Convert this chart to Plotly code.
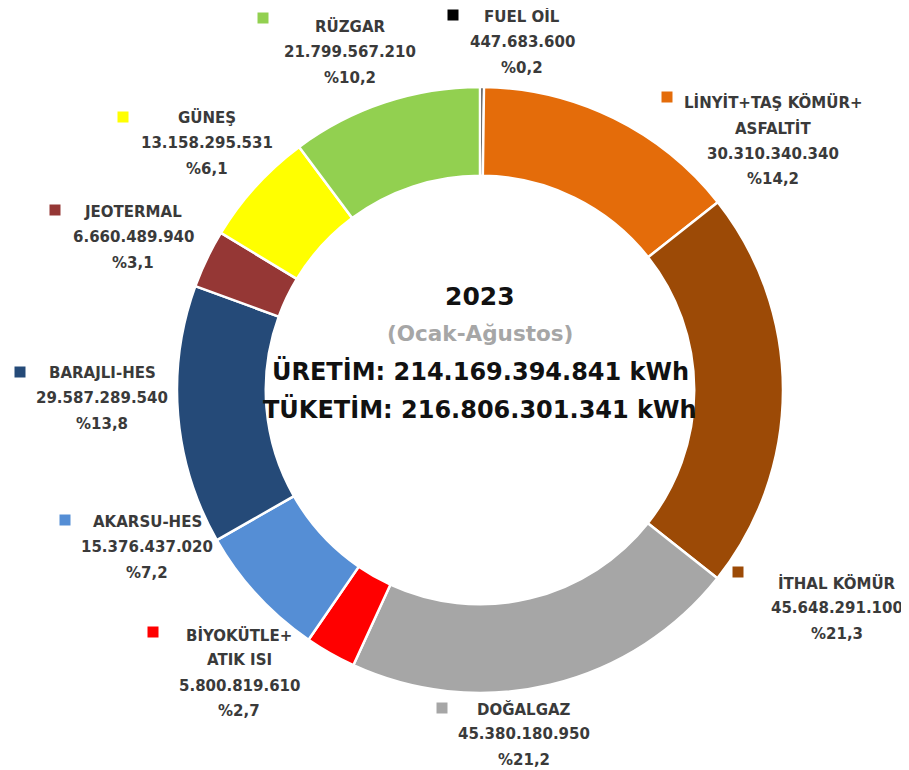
import plotly.graph_objects as go

# ---------------- data ----------------
categories = ["FUEL OİL", "LİNYİT+TAŞ KÖMÜR+<br>ASFALTİT", "İTHAL KÖMÜR", "DOĞALGAZ",
              "BİYOKÜTLE+<br>ATIK ISI", "AKARSU-HES", "BARAJLI-HES", "JEOTERMAL",
              "GÜNEŞ", "RÜZGAR"]
values_kwh = [447683600, 30310340340, 45648291100, 45380180950, 5800819610,
              15376437020, 29587289540, 6660489940, 13158295531, 21799567210]
consumption_kwh = 216806301341
year_label = "2023"
period_label = "(Ocak-Ağustos)"

# ---------------- styles / layout ----------------
colors = ["#000000", "#E46C0A", "#9C4A06", "#A6A6A6", "#FF0000",
          "#558ED5", "#254A78", "#953735", "#FFFF00", "#92D050"]

W, H = 909, 770
PAGE_OFFSET = 8  # default page body margin
CX, CY, R = 480, 390, 303

# label block layout: (marker x, marker y, text center x, first line y) in pixels
label_layout = [
    (453, 15, 522, 17),
    (667, 97, 773, 103),
    (738, 572, 837, 583),
    (442, 708, 524, 709),
    (153, 632, 239, 635),
    (65, 520, 147, 522),
    (20, 372, 102, 373),
    (55, 210, 133, 212),
    (123, 117, 207, 118),
    (263, 18, 350, 27),
]
LINE_GAP = 25.3
FONT = "DejaVu Sans"
LABEL_SIZE = 15
LABEL_COLOR = "#3a3a3a"


def tr_int(n):
    return f"{n:,}".replace(",", ".")


def tr_pct(p):
    return "%" + f"{p:.1f}".replace(".", ",")


def px(x):
    return (x - PAGE_OFFSET) / W


def py(y):
    return 1 - (y - PAGE_OFFSET) / H


total = sum(values_kwh)

fig = go.Figure(go.Pie(
    labels=[c.replace("<br>", " ") for c in categories],
    values=values_kwh,
    sort=False,
    direction="clockwise",
    rotation=0,
    hole=0.707,
    textinfo="none",
    marker=dict(colors=colors, line=dict(color="white", width=2.5)),
    domain=dict(x=[px(CX - R), px(CX + R)], y=[py(CY + R), py(CY - R)]),
    showlegend=False,
))

annotations = []
shapes = []
for cat, val, col, (mx, my, tx, ty) in zip(categories, values_kwh, colors, label_layout):
    lines = cat.split("<br>") + [tr_int(val), tr_pct(val / total * 100)]
    for i, line in enumerate(lines):
        annotations.append(dict(
            x=px(tx), y=py(ty + i * LINE_GAP), xref="paper", yref="paper",
            text=line, showarrow=False, xanchor="center", yanchor="middle",
            font=dict(family=FONT, size=LABEL_SIZE, color=LABEL_COLOR, weight="bold"),
        ))
    s = 5.5
    shapes.append(dict(type="rect", xref="paper", yref="paper",
                       x0=px(mx - s), x1=px(mx + s), y0=py(my + s), y1=py(my - s),
                       fillcolor=col, line=dict(width=0)))

center_lines = [
    (year_label, 296, 25, "#111111"),
    (period_label, 333, 21.5, "#A6A6A6"),
    (f"ÜRETİM: {tr_int(total)} kWh", 371, 24, "#111111"),
    (f"TÜKETİM: {tr_int(consumption_kwh)} kWh", 409, 24, "#111111"),
]
for text, y, size, col in center_lines:
    annotations.append(dict(
        x=px(CX), y=py(y), xref="paper", yref="paper", text=text, showarrow=False,
        xanchor="center", yanchor="middle",
        font=dict(family=FONT, size=size, color=col, weight="bold"),
    ))

fig.update_layout(
    width=W, height=H,
    margin=dict(l=0, r=0, t=0, b=0),
    paper_bgcolor="white", plot_bgcolor="white",
    annotations=annotations, shapes=shapes,
)

fig.write_html("out.html")
